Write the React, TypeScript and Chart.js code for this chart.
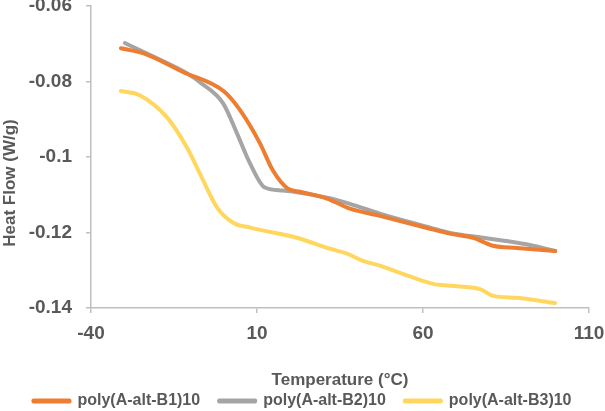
import React, { useEffect, useRef } from "react";
import { Chart, registerables } from "chart.js";

Chart.register(...registerables);

const seriesNames = ["poly(A-alt-B1)10", "poly(A-alt-B2)10", "poly(A-alt-B3)10"];

const b1X = [-31.0, -24.3, -12.3, 0.0, 4.9, 10.9, 14.8, 19.3, 23.0, 31.1, 38.0, 47.0, 62.1, 68.1, 75.1, 81.1, 88.3, 99.8];
const b1Y = [-0.0712, -0.0725, -0.0775, -0.0826, -0.0876, -0.0964, -0.1036, -0.1084, -0.1092, -0.1110, -0.1137, -0.1156, -0.1190, -0.1203, -0.1214, -0.1235, -0.1241, -0.1249];

const b2X = [-29.8, -22.2, -10.2, -7.2, -0.2, 4.0, 7.9, 12.4, 17.8, 31.1, 38.0, 47.0, 62.1, 68.1, 78.1, 88.3, 92.2, 99.8];
const b2Y = [-0.0698, -0.0730, -0.0783, -0.0802, -0.0858, -0.0938, -0.1017, -0.1081, -0.1089, -0.1108, -0.1124, -0.1150, -0.1187, -0.1201, -0.1214, -0.1227, -0.1233, -0.1249];

const b3X = [-31.0, -25.2, -17.1, -11.1, -7.2, -2.0, 2.8, 7.9, 22.0, 32.0, 37.1, 41.9, 47.0, 53.1, 63.0, 68.1, 77.2, 81.1, 88.3, 99.8];
const b3Y = [-0.0825, -0.0837, -0.0895, -0.0975, -0.1044, -0.1134, -0.1174, -0.1187, -0.1214, -0.1243, -0.1256, -0.1275, -0.1288, -0.1307, -0.1336, -0.1341, -0.1350, -0.1368, -0.1373, -0.1387];

const xTicks = [-40, 10, 60, 110];
const xTickLabels = ["-40", "10", "60", "110"];
const yTicks = [-0.14, -0.12, -0.1, -0.08, -0.06];
const yTickLabels = ["-0.14", "-0.12", "-0.1", "-0.08", "-0.06"];

const xTitle = "Temperature (°C)";
const yTitle = "Heat Flow (W/g)";

const colors = ["#ED7D31", "#A5A5A5", "#FFD75E"];

const FONT = "'Liberation Sans', Arial, sans-serif";
const TEXT = "#595959";
const AXIS = "#BFBFBF";

const toPts = (xs: number[], ys: number[]) => xs.map((x, i) => ({ x, y: ys[i] }));

const yTitlePlugin = {
  id: "yTitlePlugin",
  afterDraw(chart: any) {
    const ctx = chart.ctx;
    ctx.save();
    ctx.translate(10, 183);
    ctx.rotate(-Math.PI / 2);
    ctx.font = `bold 17px ${FONT}`;
    ctx.fillStyle = TEXT;
    ctx.textAlign = "center";
    ctx.textBaseline = "middle";
    ctx.fillText(yTitle, 0, 0);
    ctx.restore();
  },
};

export default function App() {
  const ref = useRef<HTMLCanvasElement | null>(null);

  useEffect(() => {
    document.body.style.margin = "0";
    if (!ref.current) return;
    const data = [toPts(b1X, b1Y), toPts(b2X, b2Y), toPts(b3X, b3Y)];
    const chart = new Chart(ref.current, {
      type: "line",
      data: {
        datasets: data.map((d, i) => ({
          label: seriesNames[i],
          data: d,
          borderColor: colors[i],
          backgroundColor: colors[i],
          borderWidth: 4,
          pointRadius: 0,
          cubicInterpolationMode: "monotone" as const,
          fill: false,
          borderCapStyle: "round" as const,
          borderJoinStyle: "round" as const,
        })),
      },
      options: {
        animation: false,
        responsive: false,
        layout: { padding: { left: 0, right: 0, top: 6, bottom: -8 } },
        plugins: {
          legend: {
            position: "bottom",
            labels: {
              boxWidth: 36,
              boxHeight: 1,
              padding: 19,
              color: TEXT,
              font: { family: FONT, size: 16, weight: "bold" },
            },
          },
          tooltip: { enabled: false },
        },
        scales: {
          x: {
            type: "linear",
            min: -40,
            max: 110,
            afterBuildTicks: (scale: any) => {
              scale.ticks = xTicks.map((v) => ({ value: v }));
            },
            afterFit: (scale: any) => {
              scale.height = 66;
              scale.paddingRight = 16;
              scale.paddingLeft = 0;
            },
            ticks: {
              color: TEXT,
              font: { family: FONT, size: 19, weight: "bold" },
              padding: 9,
              maxRotation: 0,
              callback: (v: any) => {
                const i = xTicks.indexOf(Number(v));
                return i >= 0 ? xTickLabels[i] : "";
              },
            },
            grid: { display: true, drawOnChartArea: false, tickLength: 5, color: AXIS, lineWidth: 1.5 },
            border: { display: true, color: AXIS, width: 1.5 },
            title: {
              display: true,
              text: xTitle,
              color: TEXT,
              font: { family: FONT, size: 17, weight: "bold" },
              padding: { top: 0, bottom: -17 },
            },
          },
          y: {
            type: "linear",
            min: -0.14,
            max: -0.06,
            afterBuildTicks: (scale: any) => {
              scale.ticks = yTicks.map((v) => ({ value: v }));
            },
            afterFit: (scale: any) => {
              scale.width = 91;
              scale.paddingTop = 0;
              scale.paddingBottom = 0;
            },
            ticks: {
              color: TEXT,
              font: { family: FONT, size: 19, weight: "bold" },
              padding: 14,
              callback: (v: any) => {
                const i = yTicks.findIndex((t) => Math.abs(t - Number(v)) < 1e-9);
                return i >= 0 ? yTickLabels[i] : "";
              },
            },
            grid: { display: true, drawOnChartArea: false, tickLength: 5, color: AXIS, lineWidth: 1.5 },
            border: { display: true, color: AXIS, width: 1.5 },
          },
        },
      },
      plugins: [yTitlePlugin],
    });
    return () => chart.destroy();
  }, []);

  return (
    <div style={{ position: "fixed", left: 0, top: 0, width: 605, height: 411, background: "#fff" }}>
      <canvas ref={ref} width={605} height={411} style={{ display: "block" }} />
    </div>
  );
}
